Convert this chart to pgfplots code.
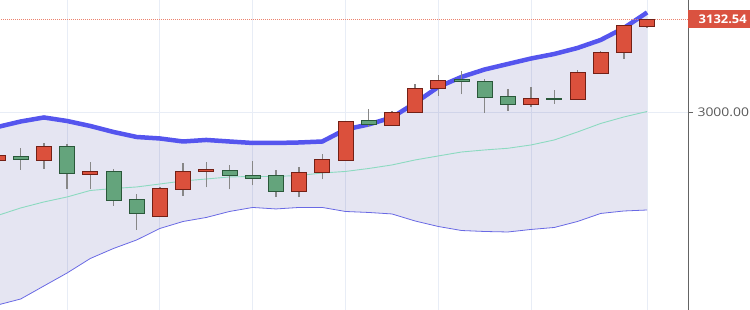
\documentclass[border=0pt]{standalone}
\usepackage{pgfplots}
\pgfplotsset{compat=1.18}
\usepackage{pgfplotstable}
\usepgfplotslibrary{fillbetween}
\usepackage{fontspec}
\setmainfont{Open Sans}

\definecolor{upfill}{RGB}{219,80,60}
\definecolor{upline}{RGB}{115,32,22}
\definecolor{dnfill}{RGB}{100,164,124}
\definecolor{dnline}{RGB}{42,88,58}
\definecolor{wick}{RGB}{135,135,135}
\definecolor{bandup}{RGB}{85,85,238}
\definecolor{bandlo}{RGB}{105,105,228}
\definecolor{bandmid}{RGB}{140,218,192}
\definecolor{bandfill}{RGB}{0,0,128}
\definecolor{gridc}{RGB}{232,237,246}
\definecolor{pricered}{RGB}{218,82,64}
\definecolor{dotred}{RGB}{236,130,110}
\definecolor{axisgray}{RGB}{100,100,100}
\definecolor{labelgray}{RGB}{90,90,90}

% candles: index, open, high, low, close
\pgfplotstableread{
i O H L C
0 2932.9 2939.0 2932.9 2939.0
1 2937.6 2950.3 2918.7 2934.3
2 2932.9 2956.6 2920.1 2952.7
3 2952.7 2955.2 2891.3 2913.4
4 2913.0 2930.5 2891.3 2916.3
5 2916.8 2919.7 2868.0 2876.1
6 2877.1 2884.2 2833.6 2856.3
7 2853.4 2895.0 2853.4 2892.2
8 2891.3 2928.2 2882.2 2917.3
9 2915.9 2929.6 2894.1 2919.1
10 2918.7 2925.8 2891.3 2910.6
11 2911.2 2931.0 2897.0 2907.3
12 2911.2 2918.7 2880.0 2887.9
13 2887.9 2922.5 2880.0 2915.4
14 2914.9 2941.4 2905.5 2933.3
15 2932.9 2988.2 2932.9 2988.2
16 2988.6 3004.8 2980.1 2983.5
17 2981.6 3002.4 2981.6 3000.0
18 3000.6 3040.3 3000.6 3034.6
19 3034.6 3053.1 3023.7 3046.4
20 3047.8 3058.7 3026.1 3044.0
21 3045.0 3048.2 3000.0 3021.9
22 3022.7 3033.2 3002.4 3011.4
23 3011.4 3036.0 3008.5 3019.9
24 3020.4 3032.2 3012.8 3018.4
25 3019.0 3060.6 3019.0 3057.3
26 3056.3 3087.6 3054.5 3085.7
27 3085.7 3124.0 3076.2 3124.0
28 3123.0 3132.54 3120.6 3132.54
}\candles

% Bollinger bands: index, upper, middle, lower
\pgfplotstableread{
i U M Lo
0 2979.7 2854.1 2727.1
1 2987.5 2864.8 2735.6
2 2993.2 2873.3 2754.1
3 2988.2 2880.4 2772.5
4 2981.1 2889.6 2793.1
5 2972.6 2892.4 2807.3
6 2965.5 2894.6 2819.4
7 2963.4 2898.8 2835.7
8 2959.1 2903.1 2845.6
9 2961.3 2905.9 2851.3
10 2959.1 2908.8 2859.8
11 2957.0 2909.5 2865.5
12 2957.0 2909.5 2863.4
13 2957.7 2910.9 2865.5
14 2959.1 2914.4 2865.5
15 2976.2 2916.6 2859.8
16 2983.3 2920.8 2858.4
17 2993.2 2925.8 2856.3
18 3013.8 2932.9 2846.3
19 3036.5 2938.6 2838.5
20 3050.7 2944.2 2832.8
21 3061.3 2947.1 2831.4
22 3069.1 2949.5 2830.7
23 3076.9 2954.2 2834.3
24 3083.3 2961.3 2837.1
25 3091.8 2972.6 2845.6
26 3103.2 2984.7 2857.0
27 3120.2 2993.9 2860.5
28 3142.2 3001.7 2861.9
}\bands

\pgfplotsset{
  candle up/.style={draw=upline, fill=upfill, line width=0.9pt},
  candle down/.style={draw=dnline, fill=dnfill, line width=0.9pt},
  candle wick/.style={draw=wick, line width=1.5pt},
}

\begin{document}
\begin{tikzpicture}
\begin{axis}[
  at={(0,0)}, anchor=south west,
  width=688pt, height=310pt, scale only axis,
  xmin=0.108, xmax=29.763, ymin=2720, ymax=3159.9,
  axis x line*=bottom, axis y line*=right,
  x axis line style={draw=none},
  y axis line style={draw=axisgray, line width=1pt},
  xtick={3,7,11,15,19,23,28}, xticklabels={},
  xtick style={draw=none},
  ytick={3000}, yticklabels={\scalebox{1.16}[1]{3000.00}},
  tick align=outside, major tick length=5pt,
  ytick style={draw=axisgray, line width=0.8pt},
  xmajorgrids, ymajorgrids,
  major grid style={draw=gridc, line width=1pt},
  yticklabel style={font=\fontsize{12}{14}\selectfont, text=labelgray, xshift=1pt},
]
\addplot[draw=none, name path=up, forget plot] table[x=i, y=U] {\bands};
\addplot[draw=none, name path=lo, forget plot] table[x=i, y=Lo] {\bands};
\addplot[fill=bandfill, fill opacity=0.1, draw=none] fill between[of=up and lo];
\addplot[bandmid, line width=0.9pt] table[x=i, y=M] {\bands};
\addplot[bandlo, line width=0.8pt] table[x=i, y=Lo] {\bands};
\addplot[bandup, line width=4.5pt, line join=round] table[x=i, y=U] {\bands};
\addplot[dotred, line width=0.7pt, dash pattern=on 0.8pt off 1.2pt] coordinates {(0,3132.54) (30,3132.54)};

\pgfplotsinvokeforeach{0,...,28}{
  \pgfplotstablegetelem{#1}{O}\of\candles \edef\co{\pgfplotsretval}
  \pgfplotstablegetelem{#1}{H}\of\candles \edef\ch{\pgfplotsretval}
  \pgfplotstablegetelem{#1}{L}\of\candles \edef\cl{\pgfplotsretval}
  \pgfplotstablegetelem{#1}{C}\of\candles \edef\cc{\pgfplotsretval}
  \pgfmathparse{min(\co,\cc)}\edef\cbl{\pgfmathresult}
  \pgfmathparse{max(\co,\cc)}\edef\cbh{\pgfmathresult}
  \pgfmathparse{#1-0.325}\edef\xl{\pgfmathresult}
  \pgfmathparse{#1+0.325}\edef\xr{\pgfmathresult}
  \pgfmathparse{\cc<\co}
  \ifdim\pgfmathresult pt>0.5pt \def\cstyle{candle down}\else \def\cstyle{candle up}\fi
  \edef\doplot{%
    \noexpand\addplot[candle wick] coordinates {(#1,\cl) (#1,\ch)};
    \noexpand\addplot[\cstyle] coordinates {(\xl,\cbl) (\xr,\cbl) (\xr,\cbh) (\xl,\cbh)} -- cycle;}
  \doplot
}
\coordinate (pl) at (axis cs:29.763,3132.54);
\end{axis}
\node[fill=pricered, text=white, anchor=west, inner xsep=11pt, inner ysep=0pt,
  minimum height=17.6pt, font=\fontsize{12}{14}\selectfont\bfseries] at ([xshift=-0.5pt]pl) {\scalebox{1.08}[1]{3132.54}};
\pgfresetboundingbox
\useasboundingbox (0,0) rectangle (750pt,310pt);
\end{tikzpicture}
\end{document}
